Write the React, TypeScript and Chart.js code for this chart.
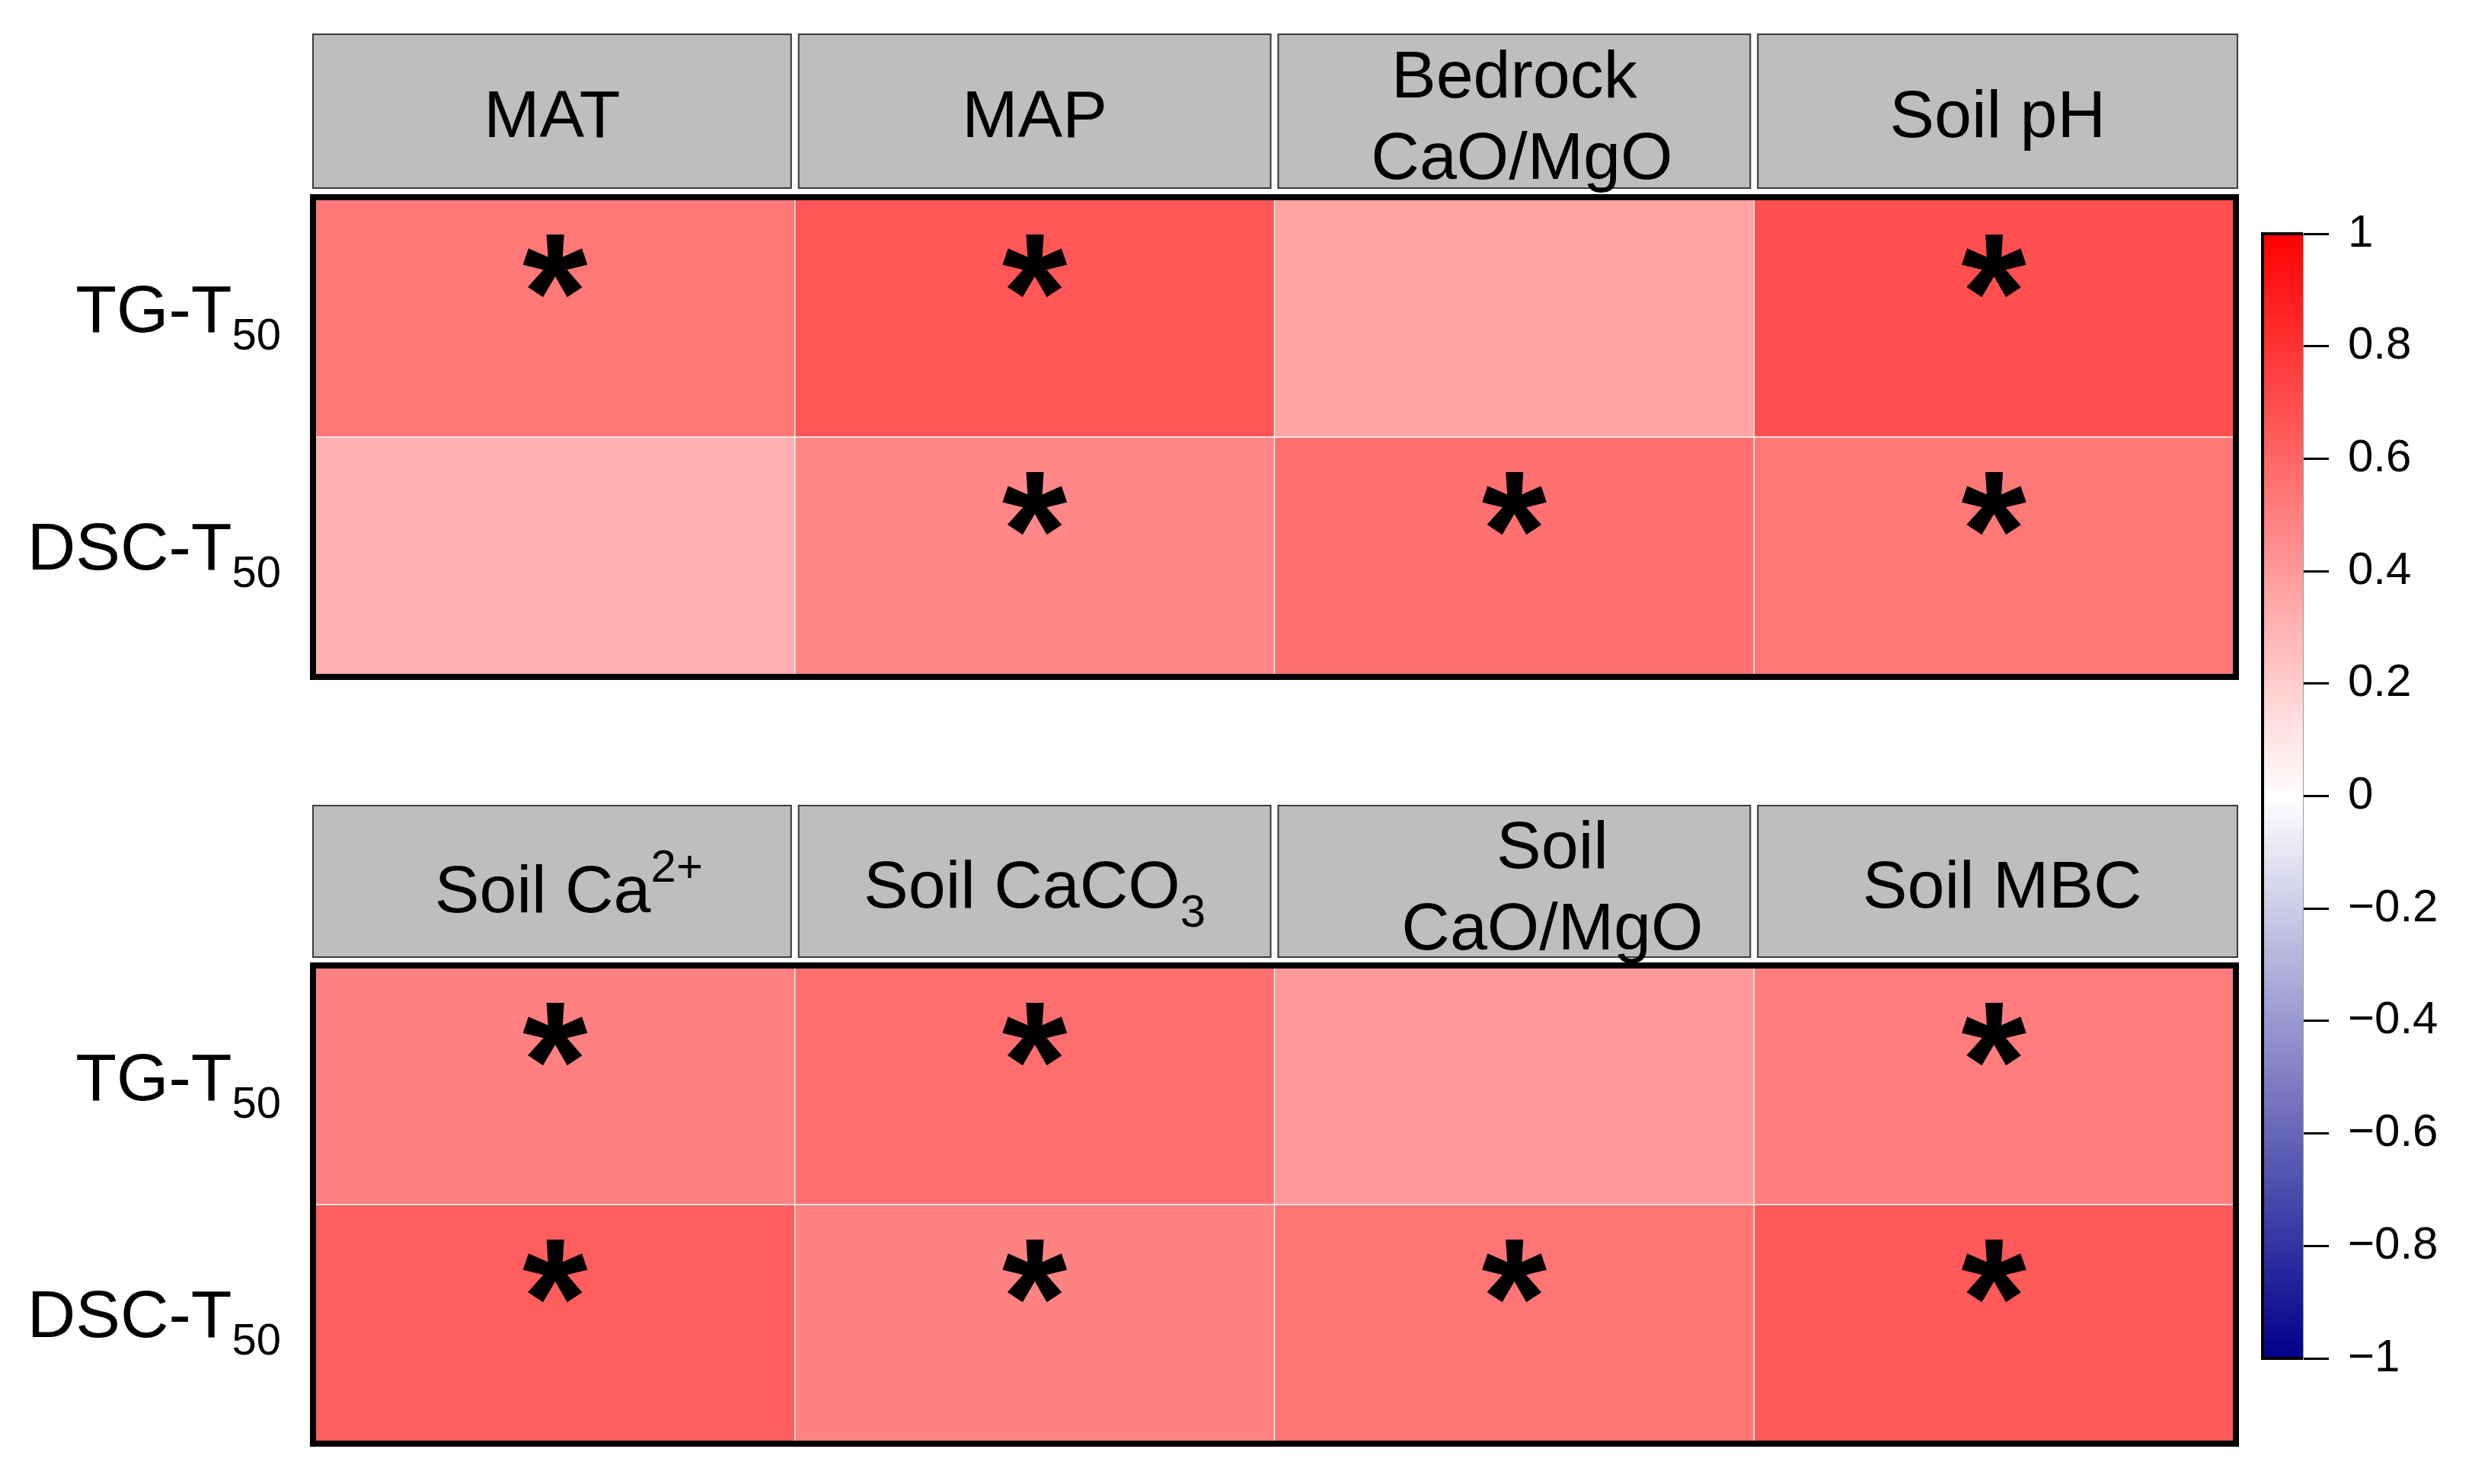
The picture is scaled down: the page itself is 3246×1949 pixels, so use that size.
import React, { useEffect, useRef } from 'react';
import { Chart, registerables } from 'chart.js';

Chart.register(...registerables);

// ---------------- data ----------------
const rowLabels = ['TG-T_{50}', 'DSC-T_{50}'];
const topColumns = ['MAT', 'MAP', 'Bedrock\nCaO/MgO', 'Soil pH'];
const bottomColumns = ['Soil Ca^{2+}', 'Soil CaCO_{3}', 'Soil\nCaO/MgO', 'Soil MBC'];

// correlation coefficients (rows: TG-T50, DSC-T50)
const topTG = [0.53, 0.66, 0.36, 0.69];
const topDSC = [0.31, 0.47, 0.56, 0.53];
const bottomTG = [0.5, 0.57, 0.4, 0.51];
const bottomDSC = [0.63, 0.49, 0.54, 0.65];

// significance flags (1 = '*')
const topTGSig = [1, 1, 0, 1];
const topDSCSig = [0, 1, 1, 1];
const bottomTGSig = [1, 1, 0, 1];
const bottomDSCSig = [1, 1, 1, 1];

const colorbarTicks = [1, 0.8, 0.6, 0.4, 0.2, 0, -0.2, -0.4, -0.6, -0.8, -1];
const colorbarRange = [-1, 1];

// ---------------- styles ----------------
const FONT = '"Liberation Sans", Arial, Helvetica, sans-serif';
const font = (px: number, bold = false) => `${bold ? 'bold ' : ''}${px}px ${FONT}`;
const HEADER_FILL = '#bebebe';
const NEG_END = [0, 0, 139];

function colorFor(v: number): string {
  if (v >= 0) {
    const k = Math.round(255 * (1 - v));
    return `rgb(255,${k},${k})`;
  }
  const t = -v;
  const r = Math.round(255 + (NEG_END[0] - 255) * t);
  const g = Math.round(255 + (NEG_END[1] - 255) * t);
  const b = Math.round(255 + (NEG_END[2] - 255) * t);
  return `rgb(${r},${g},${b})`;
}

type Seg = { text: string; kind: 'n' | 'sup' | 'sub' };
function parseRich(s: string): Seg[] {
  const segs: Seg[] = [];
  const re = /\^\{([^}]*)\}|_\{([^}]*)\}/g;
  let last = 0;
  let m: RegExpExecArray | null;
  while ((m = re.exec(s))) {
    if (m.index > last) segs.push({ text: s.slice(last, m.index), kind: 'n' });
    if (m[1] !== undefined) segs.push({ text: m[1], kind: 'sup' });
    else segs.push({ text: m[2], kind: 'sub' });
    last = re.lastIndex;
  }
  if (last < s.length) segs.push({ text: s.slice(last), kind: 'n' });
  return segs;
}

function drawRich(
  ctx: CanvasRenderingContext2D,
  text: string,
  x: number,
  baseline: number,
  align: 'left' | 'center' | 'right',
  mainPx: number,
  scriptPx: number,
  rise: number,
  drop: number
) {
  const segs = parseRich(text);
  const widths = segs.map((s) => {
    ctx.font = font(s.kind === 'n' ? mainPx : scriptPx);
    return ctx.measureText(s.text).width;
  });
  const total = widths.reduce((a, b) => a + b, 0);
  let cx = align === 'left' ? x : align === 'center' ? x - total / 2 : x - total;
  ctx.textAlign = 'left';
  ctx.textBaseline = 'alphabetic';
  segs.forEach((s, i) => {
    ctx.font = font(s.kind === 'n' ? mainPx : scriptPx);
    const yy = s.kind === 'sup' ? baseline - rise : s.kind === 'sub' ? baseline + drop : baseline;
    ctx.fillText(s.text, cx, yy);
    cx += widths[i];
  });
}

type PanelStyle = {
  headerTop: number; // relative to chart area top
  headerBottom: number;
  headerShift: number[];
  line2Shift: number[];
};

function makeDecor(columns: string[], rows: string[], sig: number[][], st: PanelStyle) {
  return {
    id: 'heatmapDecor',
    afterDatasetsDraw(chart: any) {
      const { ctx, chartArea: a, scales } = chart;
      const xs = scales.x;
      const ys = scales.y;
      ctx.save();
      // asterisks
      ctx.fillStyle = '#000';
      ctx.font = font(220, true);
      ctx.textAlign = 'center';
      ctx.textBaseline = 'alphabetic';
      sig.forEach((row, r) => {
        row.forEach((s, c) => {
          if (!s) return;
          const cx = (xs.getPixelForValue(c) + xs.getPixelForValue(c + 1)) / 2;
          const cy = ys.getPixelForValue(r);
          ctx.fillText('*', cx, cy + 42);
        });
      });
      // frame
      ctx.strokeStyle = '#000';
      ctx.lineWidth = 8;
      ctx.strokeRect(a.left - 3, a.top - 3, a.right - a.left + 6, a.bottom - a.top + 6);
      // header strips
      const n = columns.length;
      columns.forEach((label, c) => {
        const x0 = xs.getPixelForValue(c) + (c === 0 ? -4 : 4);
        const x1 = xs.getPixelForValue(c + 1) + (c === n - 1 ? 6 : -4);
        const y0 = a.top + st.headerTop;
        const y1 = a.top + st.headerBottom;
        ctx.fillStyle = HEADER_FILL;
        ctx.fillRect(x0, y0, x1 - x0, y1 - y0);
        ctx.strokeStyle = '#3a3a3a';
        ctx.lineWidth = 2;
        ctx.strokeRect(x0 + 1, y0 + 1, x1 - x0 - 2, y1 - y0 - 2);
        ctx.fillStyle = '#000';
        const mid = (y0 + y1) / 2;
        const cxm = (x0 + x1) / 2 + st.headerShift[c];
        const lines = label.split('\n');
        if (lines.length === 1) {
          const hasSup = label.includes('^{');
          drawRich(ctx, label, cxm, mid + (hasSup ? 40 : 34), 'center', 88, 60, 40, 25);
        } else {
          drawRich(ctx, lines[0], cxm, mid - 18, 'center', 88, 60, 40, 25);
          drawRich(ctx, lines[1], cxm + st.line2Shift[c], mid + 89, 'center', 88, 60, 40, 25);
        }
      });
      // row labels
      ctx.fillStyle = '#000';
      rows.forEach((lab, r) => {
        const cy = ys.getPixelForValue(r);
        drawRich(ctx, lab, a.left - 45, cy + 18, 'right', 88, 58, 40, 23);
      });
      ctx.restore();
    },
  };
}

function heatmapConfig(columns: string[], values: number[][], sig: number[][], pad: any, st: PanelStyle) {
  return {
    type: 'bar' as const,
    data: {
      labels: rowLabels,
      datasets: columns.map((col, c) => ({
        label: col,
        data: rowLabels.map(() => 1),
        backgroundColor: values.map((row) => colorFor(row[c])),
        borderColor: '#ffffff',
        borderWidth: 1,
        borderSkipped: false,
        categoryPercentage: 1,
        barPercentage: 1,
      })),
    },
    options: {
      indexAxis: 'y' as const,
      animation: false as const,
      responsive: false,
      devicePixelRatio: 1,
      events: [],
      layout: { padding: pad },
      plugins: { legend: { display: false }, tooltip: { enabled: false } },
      scales: {
        x: { stacked: true, min: 0, max: columns.length, display: false },
        y: { stacked: true, display: false },
      },
    },
    plugins: [makeDecor(columns, rowLabels, sig, st)],
  };
}

function fmtTick(v: number): string {
  const a = Math.abs(v);
  const s = a === 0 ? '0' : a === 1 ? '1' : a.toFixed(1);
  return v < 0 ? '\u2212' + s : s;
}

function colorbarConfig() {
  const frame = {
    id: 'cbFrame',
    afterDraw(chart: any) {
      const { ctx, chartArea: a } = chart;
      ctx.save();
      ctx.strokeStyle = '#000';
      ctx.lineWidth = 4;
      ctx.beginPath();
      ctx.moveTo(a.right, a.top);
      ctx.lineTo(a.left, a.top);
      ctx.lineTo(a.left, a.bottom);
      ctx.lineTo(a.right, a.bottom);
      ctx.stroke();
      ctx.restore();
    },
  };
  return {
    type: 'bar' as const,
    data: {
      labels: [''],
      datasets: [
        {
          data: [colorbarRange as [number, number]],
          backgroundColor: (c: any) => {
            const chart = c.chart;
            const a = chart.chartArea;
            if (!a) return colorFor(0);
            const g = chart.ctx.createLinearGradient(0, a.bottom, 0, a.top);
            g.addColorStop(0, colorFor(colorbarRange[0]));
            g.addColorStop(0.5, colorFor(0));
            g.addColorStop(1, colorFor(colorbarRange[1]));
            return g;
          },
          borderWidth: 0,
          categoryPercentage: 1,
          barPercentage: 1,
        },
      ],
    },
    options: {
      animation: false as const,
      responsive: false,
      devicePixelRatio: 1,
      events: [],
      layout: { padding: { left: 31, right: 0, top: 307, bottom: 165 } },
      plugins: { legend: { display: false }, tooltip: { enabled: false } },
      scales: {
        x: { display: false },
        y: {
          position: 'right' as const,
          min: colorbarRange[0],
          max: colorbarRange[1],
          afterBuildTicks: (s: any) => {
            s.ticks = colorbarTicks.map((v) => ({ value: v }));
          },
          afterFit: (s: any) => {
            s.width = 222;
          },
          ticks: {
            callback: (v: any) => fmtTick(Number(v)),
            font: { size: 60, family: FONT },
            color: '#000',
            padding: 25,
            autoSkip: false,
          },
          grid: {
            drawOnChartArea: false,
            drawTicks: true,
            tickLength: 34,
            tickWidth: 3,
            tickColor: '#000',
          },
          border: { display: true, color: '#9a9a9a', width: 2 },
        },
      },
    },
    plugins: [frame],
  };
}

export default function App() {
  const topRef = useRef<HTMLCanvasElement>(null);
  const botRef = useRef<HTMLCanvasElement>(null);
  const cbRef = useRef<HTMLCanvasElement>(null);

  useEffect(() => {
    const charts: Chart[] = [];
    charts.push(
      new Chart(
        topRef.current!,
        heatmapConfig(
          topColumns,
          [topTG, topDSC],
          [topTGSig, topDSCSig],
          { left: 414, right: 27, top: 262, bottom: 54 },
          { headerTop: -218, headerBottom: -14, headerShift: [0, 0, 0, 0], line2Shift: [0, 0, 10, 0] }
        ) as any
      )
    );
    charts.push(
      new Chart(
        botRef.current!,
        heatmapConfig(
          bottomColumns,
          [bottomTG, bottomDSC],
          [bottomTGSig, bottomDSCSig],
          { left: 414, right: 27, top: 331, bottom: 56 },
          { headerTop: -214, headerBottom: -13, headerShift: [22, 0, 50, 6], line2Shift: [0, 0, 0, 0] }
        ) as any
      )
    );
    charts.push(new Chart(cbRef.current!, colorbarConfig() as any));
    return () => charts.forEach((c) => c.destroy());
  }, []);

  return (
    <div
      style={{
        position: 'absolute',
        left: 0,
        top: 0,
        width: 3246,
        height: 1949,
        background: '#ffffff',
        overflow: 'hidden',
      }}
    >
      <canvas ref={topRef} width={2960} height={940} style={{ position: 'absolute', left: 0, top: 0, width: 2960, height: 940 }} />
      <canvas ref={botRef} width={2960} height={1009} style={{ position: 'absolute', left: 0, top: 940, width: 2960, height: 1009 }} />
      <canvas ref={cbRef} width={306} height={1949} style={{ position: 'absolute', left: 2940, top: 0, width: 306, height: 1949 }} />
    </div>
  );
}
